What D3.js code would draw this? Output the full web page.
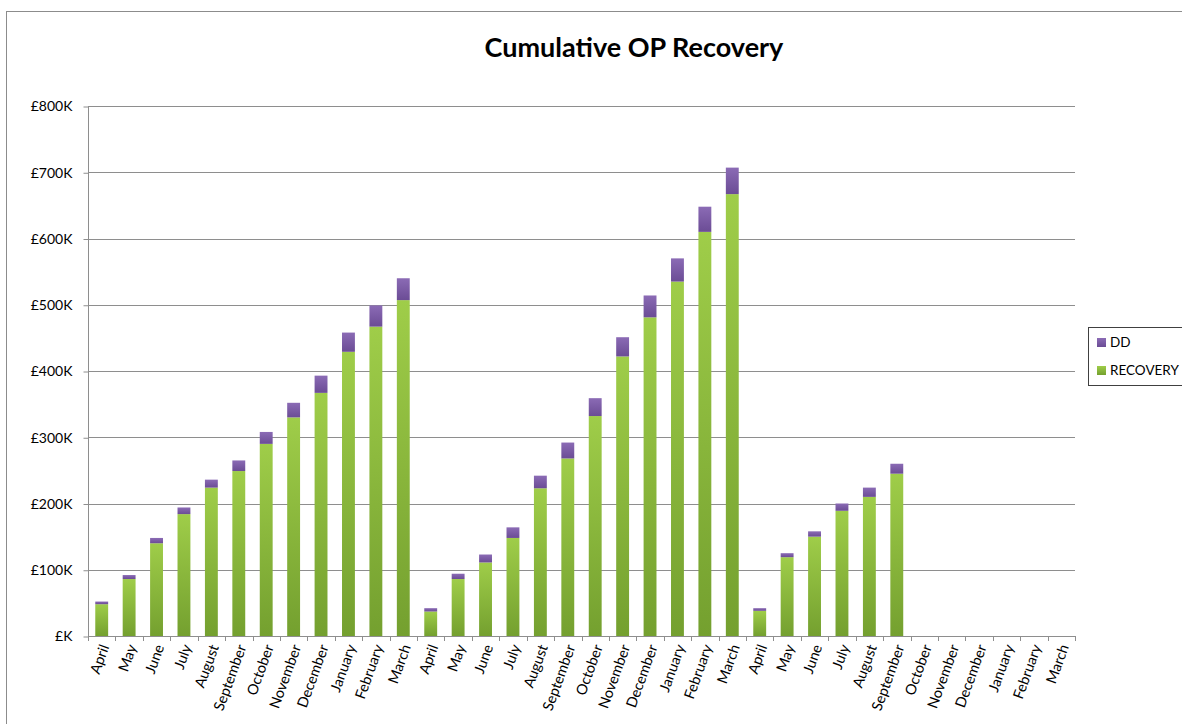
<!DOCTYPE html>
<html>
<head>
<meta charset="utf-8">
<script src="https://cdn.jsdelivr.net/npm/d3@7"></script>
<style>
  html, body { margin: 0; padding: 0; background: #fff; }
  svg { display: block; }
  text { font-family: Lato, "Open Sans", sans-serif; fill: #000; }
</style>
</head>
<body>
<svg id="chart" width="1182" height="724"></svg>
<script>
// Month labels for three financial years (April–March)
const months = ["April","May","June","July","August","September","October",
                "November","December","January","February","March"];
const categories = [...months, ...months, ...months];

// Cumulative recovery (£K) per month
const recovery = [48, 86, 140, 184, 224, 249, 290, 330, 367, 429, 467, 507,
                  37, 86, 111, 148, 223, 268, 332, 422, 481, 535, 610, 667,
                  38, 119, 150, 189, 210, 245, null, null, null, null, null, null];

// Cumulative direct debit (£K) per month, stacked on top of recovery
const dd = [4, 6, 8, 10, 12, 16, 18, 22, 26, 29, 32, 33,
            5, 8, 12, 16, 19, 24, 27, 29, 33, 35, 38, 40,
            4, 6, 8, 11, 14, 15, null, null, null, null, null, null];

const yTicks = [0, 100, 200, 300, 400, 500, 600, 700, 800];
const seriesNames = ["DD", "RECOVERY"];

const svg = d3.select("#chart");
const plot = { left: 88, right: 1075, top: 106, bottom: 636 };

// gradients for the bar fills
const defs = svg.append("defs");
function grad(id, top, bottom) {
  const g = defs.append("linearGradient").attr("id", id)
    .attr("x1", 0).attr("y1", 0).attr("x2", 0).attr("y2", 1);
  g.append("stop").attr("offset", "0%").attr("stop-color", top);
  g.append("stop").attr("offset", "100%").attr("stop-color", bottom);
}
grad("gGreen", "#9fcd49", "#74a02f");
grad("gPurple", "#8b6bb5", "#6b4c95");

// outer chart frame
svg.append("rect").attr("x", 6.5).attr("y", 11.5).attr("width", 1240).attr("height", 760)
  .attr("fill", "none").attr("stroke", "#8c8c8c").attr("stroke-width", 1);

const x = d3.scaleBand().domain(d3.range(categories.length))
  .range([plot.left, plot.right]).padding(0);
const y = d3.scaleLinear().domain([0, 800]).range([plot.bottom, plot.top]);
const barW = x.step() * 0.47;

// gridlines
svg.append("g").selectAll("line").data(yTicks.filter(d => d > 0)).join("line")
  .attr("x1", plot.left).attr("x2", plot.right)
  .attr("y1", d => Math.round(y(d)) + 0.5).attr("y2", d => Math.round(y(d)) + 0.5)
  .attr("stroke", "#8e8e8e").attr("stroke-width", 1);

// y axis
const yAxis = d3.axisLeft(y).tickValues(yTicks).tickSize(5).tickPadding(11)
  .tickFormat(d => d === 0 ? "£K" : "£" + d + "K");
const gy = svg.append("g").attr("transform", `translate(${plot.left + 0.5},0.5)`).call(yAxis);
gy.select(".domain").attr("stroke", "#8e8e8e").attr("d", `M0,${y(0)}V${y(800)}`);
gy.selectAll(".tick line").attr("stroke", "#8e8e8e");
gy.selectAll(".tick text").attr("font-size", 14).attr("fill", "#000")
  .style("font-family", "Lato, sans-serif");

// stacked bars
const rows = categories.map((c, i) => ({ i, rec: recovery[i], dd: dd[i] }))
  .filter(r => r.rec != null);
const bars = svg.append("g");
bars.selectAll("rect.rec").data(rows).join("rect").attr("class", "rec")
  .attr("x", d => x(d.i) + (x.step() - barW) / 2).attr("width", barW)
  .attr("y", d => y(d.rec)).attr("height", d => y(0) - y(d.rec))
  .attr("fill", "url(#gGreen)");
bars.selectAll("rect.dd").data(rows).join("rect").attr("class", "dd")
  .attr("x", d => x(d.i) + (x.step() - barW) / 2).attr("width", barW)
  .attr("y", d => y(d.rec + d.dd)).attr("height", d => y(d.rec) - y(d.rec + d.dd))
  .attr("fill", "url(#gPurple)");

// x axis line and category ticks at band boundaries
const gx = svg.append("g");
gx.append("line").attr("x1", plot.left).attr("x2", plot.right)
  .attr("y1", y(0) + 0.5).attr("y2", y(0) + 0.5).attr("stroke", "#8e8e8e");
gx.selectAll("line.tk").data(d3.range(categories.length + 1)).join("line").attr("class", "tk")
  .attr("x1", d => Math.round(plot.left + d * x.step()) + 0.5)
  .attr("x2", d => Math.round(plot.left + d * x.step()) + 0.5)
  .attr("y1", y(0)).attr("y2", y(0) + 5).attr("stroke", "#8e8e8e");
gx.selectAll("text").data(categories).join("text")
  .attr("transform", (d, i) => `translate(${x(i) + x.step() / 2 + 3},${y(0) + 9}) rotate(-70)`)
  .attr("text-anchor", "end").attr("dy", "0.35em").attr("font-size", 14.5)
  .text(d => d);

// title
svg.append("text").attr("x", 634).attr("y", 57).attr("text-anchor", "middle")
  .attr("font-size", 27).attr("font-weight", "bold").text("Cumulative OP Recovery");

// legend
const lg = svg.append("g");
lg.append("rect").attr("x", 1088.5).attr("y", 327.5).attr("width", 120).attr("height", 58)
  .attr("fill", "#fff").attr("stroke", "#404040");
const legendFill = { "DD": "url(#gPurple)", "RECOVERY": "url(#gGreen)" };
seriesNames.forEach((s, k) => {
  const yy = 338 + k * 28;
  lg.append("rect").attr("x", 1097).attr("y", yy).attr("width", 9).attr("height", 9)
    .attr("fill", legendFill[s]);
  lg.append("text").attr("x", 1110).attr("y", yy + 9).attr("font-size", 13.5).text(s);
});
</script>
</body>
</html>
